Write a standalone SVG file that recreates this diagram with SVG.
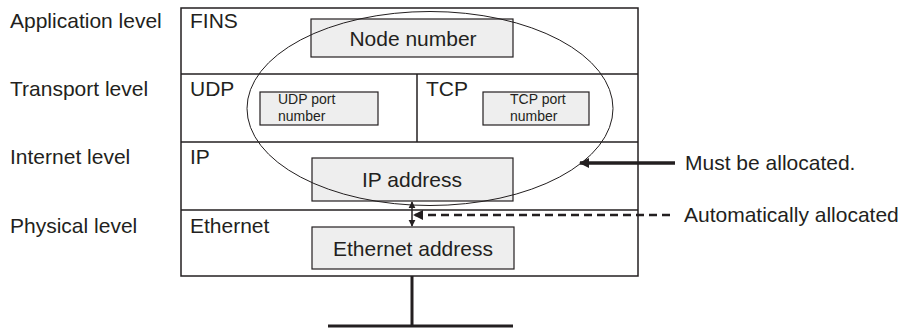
<svg xmlns="http://www.w3.org/2000/svg" width="914" height="329" viewBox="0 0 914 329">
<defs>
<style>
text{font-family:"Liberation Sans",Arial,sans-serif;fill:#231f20;}
.lbl{font-size:21px;}
.sm{font-size:14px;}
.frame{fill:none;stroke:#231f20;stroke-width:1.5;}
.box{fill:#eeeeee;stroke:#231f20;stroke-width:1.2;}
.thin{fill:none;stroke:#231f20;stroke-width:1;}
</style>
<marker id="ah" viewBox="0 0 10 10" refX="9" refY="5" markerWidth="7" markerHeight="8" markerUnits="userSpaceOnUse" orient="auto-start-reverse"><path d="M0,0 L10,5 L0,10 Z" fill="#231f20"/></marker>
<marker id="ahBig" viewBox="0 0 10 10" refX="9" refY="5" markerWidth="12" markerHeight="10" markerUnits="userSpaceOnUse" orient="auto"><path d="M0,0 L10,5 L0,10 Z" fill="#231f20"/></marker>
</defs>
<g id="levels">
<text class="lbl" x="10" y="28">Application level</text>
<text class="lbl" x="10" y="96">Transport level</text>
<text class="lbl" x="10" y="164">Internet level</text>
<text class="lbl" x="10" y="233">Physical level</text>
</g>
<g id="stack">
<rect class="frame" x="181" y="8" width="457" height="268"/>
<line class="frame" x1="181" y1="74" x2="638" y2="74"/>
<line class="frame" x1="181" y1="142" x2="638" y2="142"/>
<line class="frame" x1="181" y1="210" x2="638" y2="210"/>
<line class="frame" x1="417" y1="74" x2="417" y2="142"/>
<text class="lbl" x="190" y="28">FINS</text>
<text class="lbl" x="190" y="96">UDP</text>
<text class="lbl" x="426" y="96">TCP</text>
<text class="lbl" x="190" y="164">IP</text>
<text class="lbl" x="190" y="233">Ethernet</text>
</g>
<g id="node-number">
<rect class="box" x="311" y="19" width="202" height="38"/>
<text class="lbl" x="413" y="46" text-anchor="middle">Node number</text>
</g>
<g id="udp-port">
<rect class="box" x="260" y="92" width="118" height="33"/>
<text class="sm" x="278" y="104">UDP port</text>
<text class="sm" x="278" y="120.5">number</text>
</g>
<g id="tcp-port">
<rect class="box" x="483" y="92" width="106" height="33"/>
<text class="sm" x="510" y="104">TCP port</text>
<text class="sm" x="510" y="120.5">number</text>
</g>
<g id="ip-address">
<rect class="box" x="312" y="158" width="201" height="43"/>
<text class="lbl" x="412" y="187" text-anchor="middle">IP address</text>
</g>
<g id="ethernet-address">
<rect class="box" x="312" y="227" width="202" height="42"/>
<text class="lbl" x="413" y="256" text-anchor="middle">Ethernet address</text>
</g>
<g id="scope">
<ellipse class="thin" cx="430" cy="108.5" rx="183" ry="97"/>
</g>
<g id="network">
<line x1="412" y1="276" x2="412" y2="326" stroke="#231f20" stroke-width="3"/>
<line x1="328" y1="326" x2="513" y2="326" stroke="#231f20" stroke-width="3"/>
</g>
<g id="connectors">
<line x1="412" y1="202" x2="412" y2="226" stroke="#231f20" stroke-width="1.5" marker-start="url(#ah)" marker-end="url(#ah)"/>
<line x1="670" y1="215" x2="414" y2="215" stroke="#231f20" stroke-width="2.5" stroke-dasharray="8,5" marker-end="url(#ahBig)"/>
<line x1="675" y1="163" x2="580" y2="163" stroke="#231f20" stroke-width="3.5" marker-end="url(#ahBig)"/>
</g>
<g id="notes">
<text class="lbl" x="685" y="170">Must be allocated.</text>
<text class="lbl" x="684" y="222">Automatically allocated</text>
</g>
</svg>
